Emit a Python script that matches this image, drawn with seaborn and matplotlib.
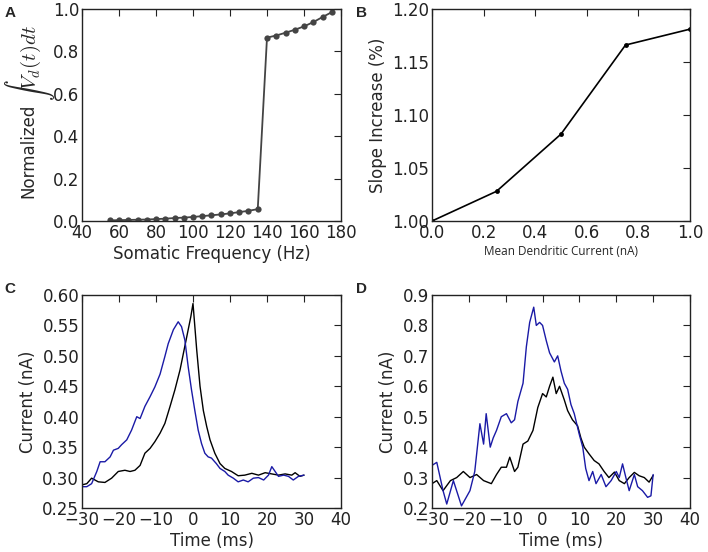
import numpy as np
import pandas as pd
import matplotlib
matplotlib.use('Agg')
import matplotlib.pyplot as plt
import seaborn as sns

# ---- Panel A data ----
freq_hz = [55, 60, 65, 70, 75, 80, 85, 90, 95, 100, 105, 110, 115, 120, 125,
           130, 135, 140, 145, 150, 155, 160, 165, 170, 175]
norm_int = [0.003, 0.004, 0.005, 0.006, 0.007, 0.009, 0.011, 0.014, 0.016, 0.019,
            0.023, 0.027, 0.031, 0.036, 0.042, 0.048, 0.056, 0.865, 0.875, 0.888,
            0.902, 0.918, 0.938, 0.962, 0.985]

# ---- Panel B data ----
dend_current = [0.0, 0.25, 0.5, 0.75, 1.0]
slope_increase = [1.000, 1.028, 1.082, 1.166, 1.181]

# ---- Panel C data ----
c_black_t = [-30, -28.7, -27.4, -25.6, -23.8, -22, -20.2, -18.4, -17, -15.7, -14.3,
             -13, -11.6, -10.3, -8.9, -7.6, -6.2, -4.9, -3.5, -2.4, -1.5, -0.6, 0,
             1, 1.9, 2.8, 3.7, 4.6, 5.9, 7.3, 8.6, 10.4, 12.2, 14, 15.9, 17.7, 19.5,
             21.3, 23.1, 24.9, 26.7, 27.6, 28.9, 30]
c_black_i = [0.288, 0.290, 0.299, 0.293, 0.292, 0.299, 0.310, 0.312, 0.310, 0.312, 0.320,
             0.340, 0.348, 0.359, 0.373, 0.389, 0.417, 0.444, 0.477, 0.510, 0.537, 0.564, 0.586,
             0.510, 0.450, 0.410, 0.384, 0.362, 0.340, 0.323, 0.315, 0.310, 0.303, 0.304, 0.307,
             0.304, 0.308, 0.306, 0.304, 0.306, 0.304, 0.308, 0.302, 0.304]
c_blue_t = [-30, -28.7, -27.4, -26, -25.1, -23.8, -22.4, -21.5, -20.2, -19.3, -17.9,
            -16.6, -15.2, -14.3, -13, -11.6, -10.3, -8.9, -7.6, -6.7, -5.3, -4, -3.1,
            -2.2, -1.3, -0.4, 0.5, 1.4, 2.3, 3.2, 4.1, 5, 6.3, 7.3, 8.6, 9.5, 10.9,
            12.2, 13.6, 14.9, 16.3, 17.7, 19.1, 20.4, 21.3, 22.2, 23.1, 24.5, 25.8,
            27.1, 28.5, 30]
c_blue_i = [0.285, 0.285, 0.290, 0.310, 0.326, 0.326, 0.334, 0.345, 0.348, 0.354, 0.362,
            0.378, 0.400, 0.397, 0.417, 0.433, 0.449, 0.470, 0.499, 0.520, 0.543, 0.556, 0.548,
            0.526, 0.482, 0.444, 0.410, 0.378, 0.356, 0.340, 0.334, 0.332, 0.323, 0.315, 0.310,
            0.304, 0.299, 0.293, 0.296, 0.293, 0.299, 0.300, 0.296, 0.304, 0.318, 0.310, 0.302,
            0.304, 0.302, 0.296, 0.302, 0.304]

# ---- Panel D data ----
d_black_t = [-30, -28.7, -27, -25, -23.3, -21.5, -19.7, -17.9, -16, -13.9, -12.5, -11.2,
             -9.8, -8.9, -7.6, -6.7, -5.3, -4, -2.6, -1.3, 0, 1, 1.9, 2.8, 3.7, 4.6,
             5.9, 6.8, 8.1, 9.5, 10.4, 11.3, 12.6, 14, 15.3, 16.7, 18, 19.5, 20.8,
             22.2, 23.5, 24.9, 26.2, 27.6, 28.9, 30]
d_black_i = [0.280, 0.290, 0.257, 0.290, 0.300, 0.320, 0.300, 0.310, 0.290, 0.280, 0.310, 0.334,
             0.334, 0.367, 0.320, 0.334, 0.410, 0.420, 0.455, 0.530, 0.576, 0.565, 0.600, 0.630,
             0.576, 0.600, 0.555, 0.520, 0.490, 0.470, 0.430, 0.400, 0.378, 0.356, 0.345, 0.320,
             0.300, 0.318, 0.290, 0.280, 0.300, 0.317, 0.306, 0.300, 0.285, 0.307]
d_blue_t = [-30, -28.7, -27, -26, -24.2, -22, -19.7, -18.4, -17, -16, -15.3, -14.2,
            -13.4, -12.5, -11.2, -9.8, -8.5, -7.6, -6.7, -5.3, -4.4, -3.5, -2.4, -1.7,
            -0.8, 0, 1, 1.9, 3.2, 4.1, 5, 5.9, 6.8, 7.7, 8.6, 10, 10.9, 11.7, 12.6,
            13.6, 14.5, 15.9, 17.2, 18.6, 20, 20.8, 21.7, 22.6, 23.5, 24.9, 25.8,
            27.1, 28.5, 29.4, 30]
d_blue_i = [0.340, 0.350, 0.257, 0.213, 0.290, 0.207, 0.257, 0.320, 0.477, 0.410, 0.510, 0.400,
            0.430, 0.455, 0.500, 0.510, 0.480, 0.490, 0.550, 0.610, 0.730, 0.810, 0.860, 0.800,
            0.810, 0.800, 0.750, 0.710, 0.680, 0.700, 0.650, 0.610, 0.590, 0.540, 0.510, 0.440,
            0.400, 0.330, 0.290, 0.320, 0.280, 0.310, 0.270, 0.290, 0.320, 0.300, 0.345, 0.300,
            0.257, 0.310, 0.270, 0.257, 0.235, 0.240, 0.310]

sns.set_style('white')
plt.rcParams['font.family'] = ['DejaVu Sans']
plt.rcParams.update({
    'xtick.direction': 'in', 'ytick.direction': 'in',
    'xtick.top': True, 'ytick.right': True,
    'xtick.major.size': 5, 'ytick.major.size': 5,
    'xtick.major.width': 0.8, 'ytick.major.width': 0.8,
    'xtick.color': '#222222', 'ytick.color': '#222222',
    'axes.edgecolor': '#222222', 'axes.linewidth': 1.0,
    'font.size': 12, 'mathtext.fontset': 'cm',
})

fig = plt.figure(figsize=(7.08, 5.52), dpi=100)
W, H = 708, 552


def add_ax(x0, y0, x1, y1):
    return fig.add_axes([x0 / W, 1 - y1 / H, (x1 - x0) / W, (y1 - y0) / H])


BLUE = '#1a1aa6'

# A
axA = add_ax(82, 9, 341, 221)
sns.lineplot(x=freq_hz, y=norm_int, ax=axA, color='#444444', marker='o',
             markersize=4.5, markeredgewidth=0, linewidth=1.3)
axA.set_xlim(40, 180)
axA.set_ylim(0, 1.0)
axA.set_xticks(np.arange(40, 181, 20))
axA.set_yticks(np.arange(0, 1.01, 0.2))
axA.set_xlabel('Somatic Frequency (Hz)', fontsize=12)
axA.set_ylabel('')
# y label of A: plain word plus a larger math part, on a shared baseline
fig.text(33 / W, 1 - 198 / H, 'Normalized', rotation=90, rotation_mode='anchor',
         ha='left', va='baseline', fontsize=12)
fig.text(37 / W, 1 - 101 / H, r'$\int V_d(t)dt$', rotation=90, rotation_mode='anchor',
         ha='left', va='baseline', fontsize=15)

# B
axB = add_ax(432, 9, 690, 221)
sns.lineplot(x=dend_current, y=slope_increase, ax=axB, color='black', marker='o',
             markersize=3.5, markeredgewidth=0, linewidth=1.2)
axB.set_xlim(0, 1.0)
axB.set_ylim(1.0, 1.2)
axB.set_xticks(np.arange(0, 1.01, 0.2))
axB.set_yticks(np.arange(1.0, 1.201, 0.05))
axB.yaxis.set_major_formatter(matplotlib.ticker.FormatStrFormatter('%.2f'))
axB.set_xlabel('Mean Dendritic Current (nA)', fontsize=8.5, family=['Open Sans'])
axB.set_ylabel('Slope Increase (%)', fontsize=12)

# C
axC = add_ax(82, 295, 341, 508)
sns.lineplot(x=c_black_t, y=c_black_i, ax=axC, color='black', linewidth=1.0)
sns.lineplot(x=c_blue_t, y=c_blue_i, ax=axC, color=BLUE, linewidth=1.0)
axC.set_xlim(-30, 40)
axC.set_ylim(0.25, 0.60)
axC.set_xticks(np.arange(-30, 41, 10))
axC.set_yticks(np.arange(0.25, 0.601, 0.05))
axC.yaxis.set_major_formatter(matplotlib.ticker.FormatStrFormatter('%.2f'))
axC.set_xlabel('Time (ms)', fontsize=12)
axC.set_ylabel('Current (nA)', fontsize=12)

# D
axD = add_ax(432, 295, 690, 508)
sns.lineplot(x=d_black_t, y=d_black_i, ax=axD, color='black', linewidth=1.0)
sns.lineplot(x=d_blue_t, y=d_blue_i, ax=axD, color=BLUE, linewidth=1.0)
axD.set_xlim(-30, 40)
axD.set_ylim(0.2, 0.9)
axD.set_xticks(np.arange(-30, 41, 10))
axD.set_yticks(np.arange(0.2, 0.901, 0.1))
axD.yaxis.set_major_formatter(matplotlib.ticker.FormatStrFormatter('%.1f'))
axD.set_xlabel('Time (ms)', fontsize=12)
axD.set_ylabel('Current (nA)', fontsize=12)

for ax in (axA, axB, axC, axD):
    ax.tick_params(labelsize=12, pad=2)
    ax.xaxis.labelpad = 2

# panel letters
for lbl, (px, py) in {'A': (10, 13), 'B': (361, 13), 'C': (10, 289), 'D': (361, 289)}.items():
    fig.text(px / W, 1 - py / H, lbl, fontsize=11, fontweight='bold',
             family=['Liberation Sans'], ha='center', va='center')

fig.savefig('out.png', dpi=100)
